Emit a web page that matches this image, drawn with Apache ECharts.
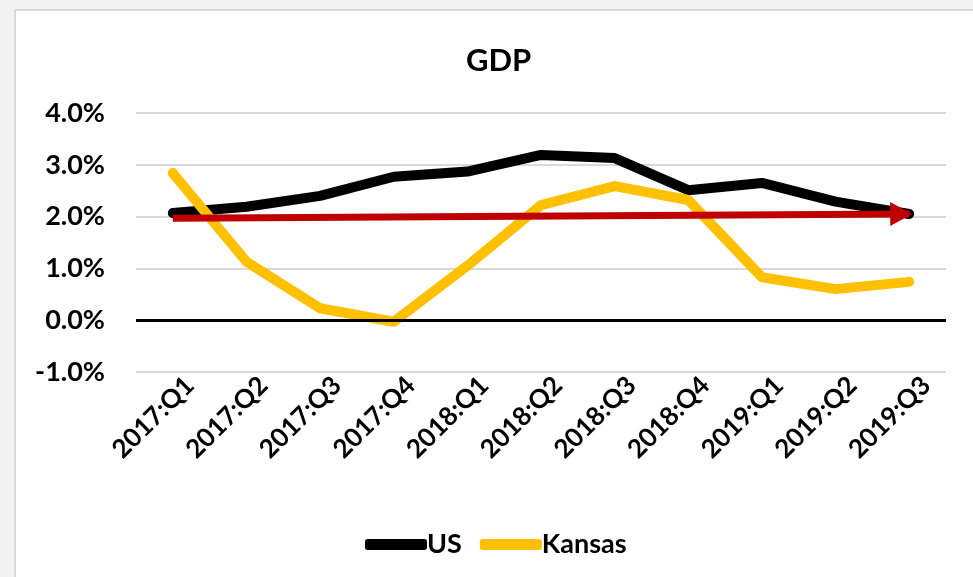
<!DOCTYPE html>
<html>
<head>
<meta charset="utf-8">
<script src="https://cdn.jsdelivr.net/npm/echarts@6/dist/echarts.min.js"></script>
<style>
html,body{margin:0;padding:0;background:#f2f2f2;}
#main{width:973px;height:577px;}
</style>
</head>
<body>
<div id="main"></div>
<script>
const categories = ['2017:Q1','2017:Q2','2017:Q3','2017:Q4','2018:Q1','2018:Q2','2018:Q3','2018:Q4','2019:Q1','2019:Q2','2019:Q3'];
const usValues = [2.07, 2.19, 2.40, 2.77, 2.87, 3.19, 3.13, 2.51, 2.65, 2.29, 2.05];
const kansasValues = [2.84, 1.13, 0.23, -0.03, 1.05, 2.22, 2.59, 2.32, 0.83, 0.60, 0.74];
const trendStart = 1.97;
const trendEnd = 2.05;
const yTicks = [-1, 0, 1, 2, 3, 4];

const FONT = 'Lato';
const chart = echarts.init(document.getElementById('main'), null, {renderer:'canvas'});
chart.setOption({
  animation: false,
  backgroundColor: '#f2f2f2',
  graphic: [{
    type: 'rect', z: -10, silent: true,
    shape: {x: 15, y: 10, width: 980, height: 600},
    style: {fill: '#ffffff', stroke: '#d9d9d9', lineWidth: 2}
  }],
  title: {
    text: 'GDP', left: 461, top: 40,
    textStyle: {fontFamily: FONT, fontWeight: 'bold', fontSize: 31, color: '#000'}
  },
  legend: {
    left: 360, top: 526,
    itemWidth: 62, itemHeight: 11, itemGap: 18,
    icon: 'roundRect',
    data: ['US', 'Kansas'],
    textStyle: {fontFamily: FONT, fontWeight: 'bold', fontSize: 27, color: '#000', padding: [0,0,0,-5]}
  },
  grid: {left: 136, right: 27, top: 113, bottom: 205, containLabel: false},
  xAxis: {
    type: 'category', data: categories, boundaryGap: true,
    axisLine: {show: false, onZero: false},
    axisTick: {show: false},
    axisLabel: {rotate: 45, interval: 0, margin: 26, fontFamily: FONT, fontWeight: 'bold', fontSize: 26, color: '#000',
      padding: [44, -24, 0, 0]}
  },
  yAxis: {
    type: 'value', min: yTicks[0], max: yTicks[yTicks.length-1], interval: 1,
    axisLine: {show: false}, axisTick: {show: false},
    splitLine: {lineStyle: {color: '#d9d9d9', width: 2}},
    axisLabel: {margin: 31, fontFamily: FONT, fontWeight: 'bold', fontSize: 27, color: '#000',
      formatter: v => v.toFixed(1) + '%'}
  },
  series: [
    {
      name: 'US', type: 'line', data: usValues, showSymbol: false, symbol: 'none',
      color: '#000000',
      lineStyle: {width: 10, color: '#000000', cap: 'round', join: 'round'},
      z: 3,
      markLine: {
        silent: true, symbol: 'none', label: {show: false},
        lineStyle: {color: '#000', width: 3, type: 'solid'},
        data: [{yAxis: 0}]
      }
    },
    {
      name: 'Kansas', type: 'line', data: kansasValues, showSymbol: false, symbol: 'none',
      color: '#FFC000',
      lineStyle: {width: 10, color: '#FFC000', cap: 'round', join: 'round'},
      z: 4,
      markLine: {
        silent: true, symbol: ['none', 'triangle'], symbolSize: [24, 22], symbolOffset: [0, [0, 8]],
        label: {show: false},
        lineStyle: {color: '#C00000', width: 7, type: 'solid'},
        data: [[{coord: [0, trendStart]}, {coord: [categories.length - 1, trendEnd]}]],
        z: 10
      }
    }
  ]
});
</script>
</body>
</html>
